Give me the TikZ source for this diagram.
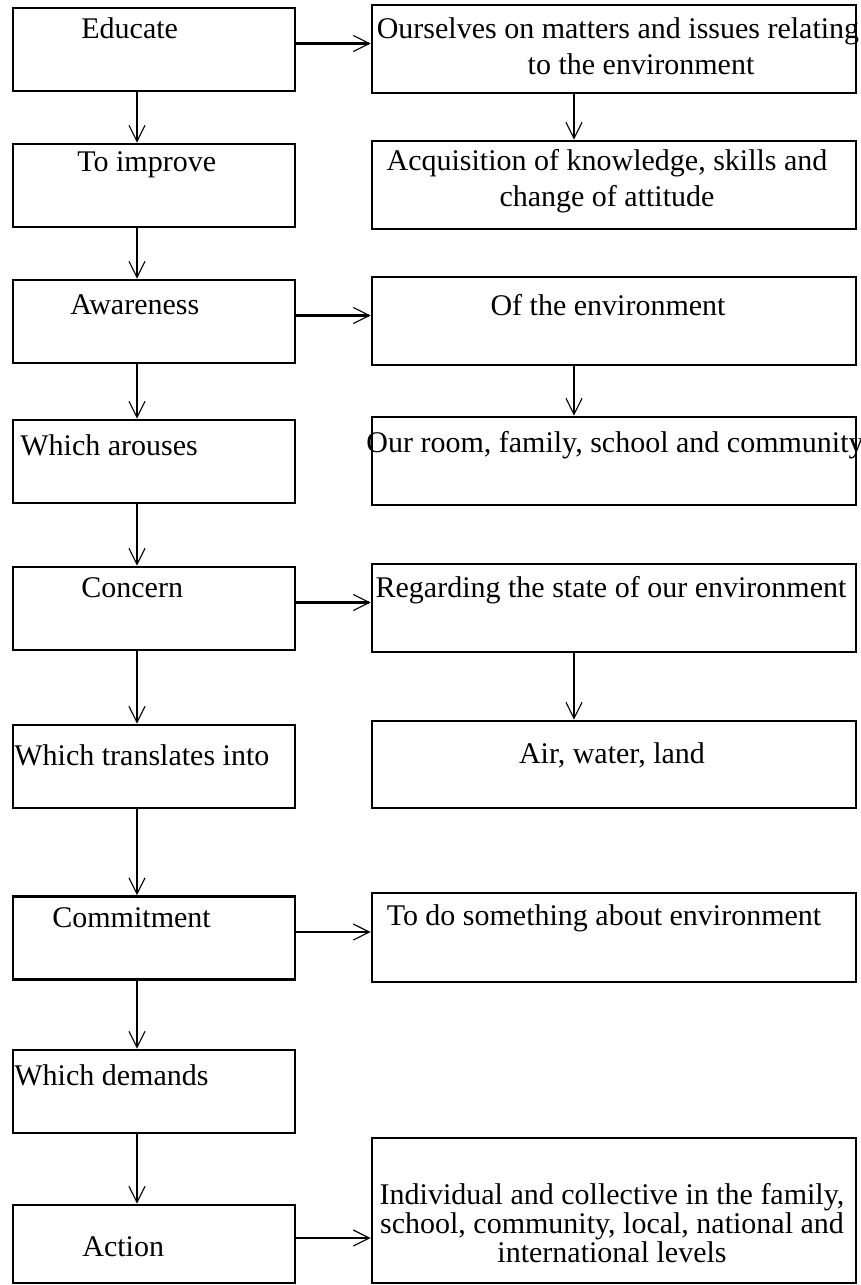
\documentclass[tikz,border=0pt]{standalone}
\usepackage{fontspec}
\setmainfont{Liberation Serif}
\usetikzlibrary{arrows.meta}

\begin{document}
\begin{tikzpicture}[
  x=0.5pt, y=-0.5pt,
  font=\fontsize{15pt}{18pt}\selectfont,
  lbox/.style={draw, line width=1.3pt, minimum width=141pt, minimum height=41.5pt, inner sep=0pt},
  rbox/.style={draw, line width=1.3pt, minimum width=242pt, minimum height=44pt, inner sep=0pt},
  ltxt/.style={anchor=west, inner sep=0pt},
  rtxt/.style={align=center, inner sep=0pt},
  ar/.style={-{Straight Barb[length=8pt,width=8pt,line width=0.6pt]}, line width=1.2pt},
  lar/.style={ar, line width=0.8pt},
  rar/.style={ar, line width=1pt},
]
\useasboundingbox (0,0) rectangle (861,1285);

% left column
\node[lbox] (educ) at (154,49.5)  {};
\node[lbox] (impr) at (154,185.5) {};
\node[lbox] (awar) at (154,321.5) {};
\node[lbox] (arou) at (154,461.5) {};
\node[lbox] (conc) at (154,608.5) {};
\node[lbox] (tran) at (154,766.5) {};
\node[lbox] (comm) at (154,938)   {};
\node[lbox] (dema) at (154,1091.5) {};
\node[lbox, minimum height=39pt] (act) at (154,1244) {};

\node[ltxt] (educ-t) at (81,28)   {Educate};
\node[ltxt] (impr-t) at (77,165)  {To improve};
\node[ltxt] (awar-t) at (70,305)  {Awareness};
\node[ltxt] (arou-t) at (20,445)  {Which arouses};
\node[ltxt] (conc-t) at (81,588)  {Concern};
\node[ltxt] (tran-t) at (14,755)  {Which translates into};
\node[ltxt] (comm-t) at (52,918)  {Commitment};
\node[ltxt] (dema-t) at (14,1075) {Which demands};
\node[ltxt] (act-t)  at (82,1247) {Action};

% right column
\node[rbox] (selv) at (614,49)  {};
\node[rbox] (acq)  at (614,185) {};
\node[rbox] (envr) at (614,321) {};
\node[rbox] (room) at (614,461) {};
\node[rbox] (regd) at (614,608) {};
\node[rbox, minimum height=43.5pt] (air) at (614,764.5) {};
\node[rbox, minimum height=44.5pt] (todo) at (614,937.5) {};
\node[rbox, minimum height=72.5pt] (indv) at (614,1210.5) {};

\node[rtxt] (selv-t) at (618,46)  {Ourselves on matters and issues relating\\\hspace*{23pt}to the environment};
\node[rtxt] (acq-t)  at (607,181.5) {Acquisition of knowledge, skills and\\change of attitude};
\node[rtxt] (envr-t) at (608,305) {Of the environment};
\node[rtxt] (room-t) at (615,445) {Our room, family, school and community};
\node[rtxt] (regd-t) at (611,590) {Regarding the state of our environment};
\node[rtxt] (air-t)  at (612,755) {Air, water, land};
\node[rtxt] (todo-t) at (604,918) {To do something about environment};
\node[rtxt, font=\fontsize{15pt}{14.5pt}\selectfont] (indv-t) at (612,1223)
  {Individual and collective in the family,\\school, community, local, national and\\international levels};

% down the left
\draw[lar] ([xshift=-8.5pt]educ.south) -- ([xshift=-8.5pt]impr.north);
\draw[lar] ([xshift=-8.5pt]impr.south) -- ([xshift=-8.5pt]awar.north);
\draw[lar] ([xshift=-8.5pt]awar.south) -- ([xshift=-8.5pt]arou.north);
\draw[lar] ([xshift=-8.5pt]arou.south) -- ([xshift=-8.5pt]conc.north);
\draw[lar] ([xshift=-8.5pt]conc.south) -- ([xshift=-8.5pt]tran.north);
\draw[lar] ([xshift=-8.5pt]tran.south) -- ([xshift=-8.5pt]comm.north);
\draw[lar] ([xshift=-8.5pt]comm.south) -- ([xshift=-8.5pt]dema.north);
\draw[lar] ([xshift=-8.5pt]dema.south) -- ([xshift=-8.5pt]act.north);

% down the right
\draw[rar] ([xshift=-20pt]selv.south) -- ([xshift=-20pt]acq.north);
\draw[rar] ([xshift=-20pt]envr.south) -- ([xshift=-20pt]room.north);
\draw[rar] ([xshift=-20pt]regd.south) -- ([xshift=-20pt]air.north);

% across
\draw[ar] ([yshift=3pt]educ.east) -- ([yshift=3pt]educ.east -| selv.west);
\draw[ar] ([yshift=3pt]awar.east) -- ([yshift=3pt]awar.east -| envr.west);
\draw[ar] ([yshift=3pt]conc.east) -- ([yshift=3pt]conc.east -| regd.west);
\draw[ar] ([yshift=3pt]comm.east) -- ([yshift=3pt]comm.east -| todo.west);
\draw[ar] ([yshift=3pt]act.east)  -- ([yshift=3pt]act.east -| indv.west);

\end{tikzpicture}
\end{document}
